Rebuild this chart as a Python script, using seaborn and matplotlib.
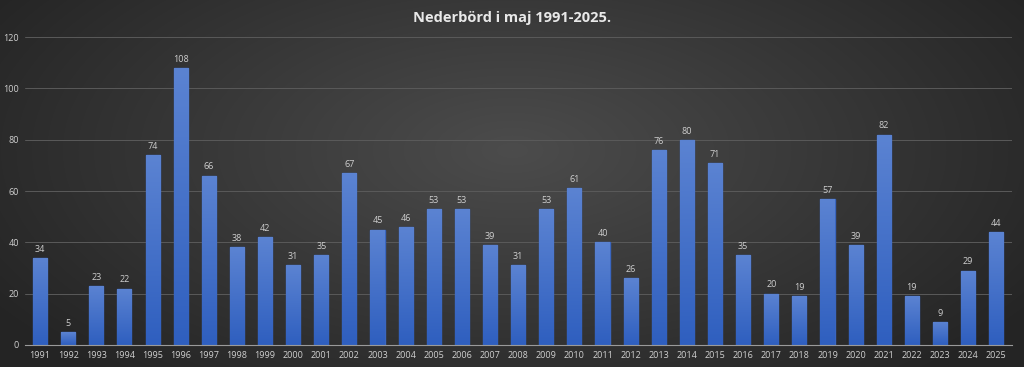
import numpy as np
import pandas as pd
import matplotlib
matplotlib.use("Agg")
import matplotlib.pyplot as plt
import seaborn as sns
from matplotlib.colors import LinearSegmentedColormap

years = [str(y) for y in range(1991, 2026)]
values = [34, 5, 23, 22, 74, 108, 66, 38, 42, 31, 35, 67, 45, 46, 53, 53, 39, 31,
          53, 61, 40, 26, 76, 80, 71, 35, 20, 19, 57, 39, 82, 19, 9, 29, 44]
title = "Nederbörd i maj 1991-2025."
yticks = [0, 20, 40, 60, 80, 100, 120]

sns.set_theme(style="dark")
plt.rcParams['font.family'] = ['Open Sans', 'DejaVu Sans']

df = pd.DataFrame({"year": years, "value": values})

fig = plt.figure(figsize=(10.24, 3.67), dpi=100)

# radial gradient background
bg = fig.add_axes([0, 0, 1, 1], zorder=-10)
yy, xx = np.mgrid[0:367, 0:1024]
r = np.sqrt(((xx - 512) / 620.0) ** 2 + ((yy - 150) / 300.0) ** 2)
r = np.clip(r, 0, 1)
c0 = np.array([0x4c, 0x4c, 0x4c]) / 255
c1 = np.array([0x24, 0x24, 0x24]) / 255
img = c0[None, None, :] * (1 - r[..., None]) + c1[None, None, :] * r[..., None]
bg.imshow(img, aspect="auto", extent=[0, 1, 0, 1])
bg.axis("off")

ax = fig.add_axes([0.024, 0.060, 0.964, 0.839])
ax.patch.set_alpha(0)
sns.barplot(data=df, x="year", y="value", color="#4472c4", width=0.5, ax=ax, saturation=1)

# gradient fill for bars
grad = np.linspace(0, 1, 100)[:, None]
cmap = LinearSegmentedColormap.from_list("b", ["#2f5fbf", "#5b83d2"])
for p in ax.patches:
    x0, y0 = p.get_x(), p.get_y()
    w, h = p.get_width(), p.get_height()
    im = ax.imshow(grad, cmap=cmap, aspect="auto", origin="lower",
                   extent=[x0, x0 + w, y0, y0 + h], zorder=p.get_zorder() + 0.1)
    im.set_clip_path(p)
    p.set_edgecolor("#3a66c0")

for cont in ax.containers:
    ax.bar_label(cont, fmt="%.0f", padding=3, fontsize=6.5, color="#cfcfcf")

ax.set_xlim(-0.55, len(years) - 0.45)
ax.set_ylim(0, 120)
ax.set_yticks(yticks)
ax.tick_params(axis="both", colors="#d0d0d0", labelsize=6.5, length=0, pad=4)
ax.grid(axis="y", color="#5a5a5a", linewidth=0.7)
ax.grid(axis="x", visible=False)
ax.set_axisbelow(True)
for s in ["top", "right", "left"]:
    ax.spines[s].set_visible(False)
ax.spines["bottom"].set_color("#9a9a9a")
ax.spines["bottom"].set_linewidth(0.8)
ax.set_xlabel("")
ax.set_ylabel("")

t = fig.text(0.5, 0.95, title, ha="center", va="center", fontsize=10.5, fontweight="bold",
             color="#e8e8e8")

fig.savefig("out.png", dpi=100)
